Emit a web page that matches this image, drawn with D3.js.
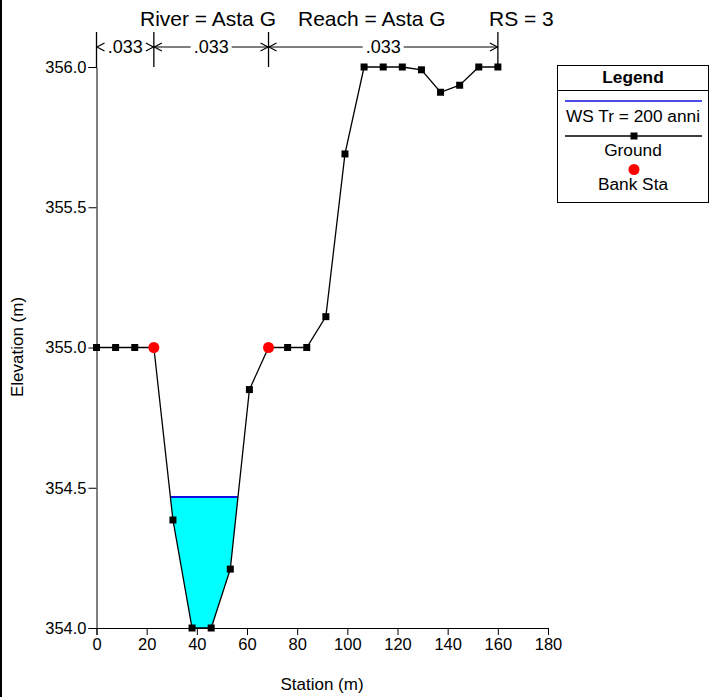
<!DOCTYPE html>
<html>
<head>
<meta charset="utf-8">
<script src="https://cdn.jsdelivr.net/npm/d3@7"></script>
<style>
  html, body { margin: 0; padding: 0; background: #fff; }
  svg { display: block; font-family: "Liberation Sans", Arial, sans-serif; }
</style>
</head>
<body>
<svg id="chart" width="712" height="697"></svg>
<script>
// ---- data ----
const stations = [0, 7.62, 15.24, 22.86, 30.48, 38.10, 45.72, 53.34, 60.96, 68.58, 76.20, 83.82,
                  91.44, 99.06, 106.68, 114.30, 121.92, 129.54, 137.16, 144.78, 152.40, 160.02];
const elevations = [355.0, 355.0, 355.0, 355.0, 354.385, 354.0, 354.0, 354.21, 354.85, 355.0, 355.0, 355.0,
                    355.11, 355.69, 356.0, 356.0, 356.0, 355.99, 355.91, 355.935, 356.0, 356.0];
const bankStations = [22.86, 68.58];
const bankElevations = [355.0, 355.0];
const wsElevation = 354.467;
const nStations = [0, 22.86, 68.58, 160.02];
const nValues = [".033", ".033", ".033"];
const xTicks = [0, 20, 40, 60, 80, 100, 120, 140, 160, 180];
const yTicks = [354.0, 354.5, 355.0, 355.5, 356.0];
const titleParts = ["River = Asta G", "Reach = Asta G", "RS = 3"];
const legendItems = ["WS Tr = 200 anni", "Ground", "Bank Sta"];

// ---- chart ----
const svg = d3.select("#chart");
const x = d3.scaleLinear().domain([0, 180]).range([96.5, 548]);
const y = d3.scaleLinear().domain([354, 356]).range([628, 67]);

// left border
svg.append("line").attr("x1", 1).attr("x2", 1).attr("y1", 0).attr("y2", 697)
  .attr("stroke", "#000").attr("stroke-width", 2);

// water polygon: find intersections with ground
const pts = stations.map((s, i) => [s, elevations[i]]);
let leftX = null, rightX = null, leftIdx = 0, rightIdx = 0;
let minI = d3.minIndex(elevations);
for (let i = minI; i > 0; i--) {
  if (elevations[i - 1] >= wsElevation && elevations[i] < wsElevation) {
    const t = (elevations[i - 1] - wsElevation) / (elevations[i - 1] - elevations[i]);
    leftX = stations[i - 1] + t * (stations[i] - stations[i - 1]); leftIdx = i; break;
  }
}
for (let i = minI; i < stations.length - 1; i++) {
  if (elevations[i + 1] >= wsElevation && elevations[i] < wsElevation) {
    const t = (wsElevation - elevations[i]) / (elevations[i + 1] - elevations[i]);
    rightX = stations[i] + t * (stations[i + 1] - stations[i]); rightIdx = i; break;
  }
}
const waterPts = [[leftX, wsElevation]];
for (let i = leftIdx; i <= rightIdx; i++) waterPts.push(pts[i]);
waterPts.push([rightX, wsElevation]);
svg.append("path")
  .attr("d", d3.line().x(d => x(d[0])).y(d => y(d[1]))(waterPts) + "Z")
  .attr("fill", "#00ffff").attr("stroke", "none");
svg.append("line")
  .attr("x1", x(leftX)).attr("x2", x(rightX)).attr("y1", y(wsElevation)).attr("y2", y(wsElevation))
  .attr("stroke", "#1010e0").attr("stroke-width", 2);

// axes
const fs = 16.5;
const gx = svg.append("g").attr("transform", `translate(0,${y(354)})`);
gx.call(d3.axisBottom(x).tickValues(d3.range(0, 181, 10)).tickSize(4).tickFormat(""));
gx.call(d3.axisBottom(x).tickValues(xTicks).tickSize(7).tickPadding(3).tickFormat(d3.format("d")));
gx.selectAll("text").attr("font-size", fs).attr("font-family", "Liberation Sans, Arial, sans-serif").attr("fill", "#000");
gx.selectAll("path.domain").attr("stroke", "#000");
gx.selectAll("line").attr("stroke", "#000");

const gy = svg.append("g").attr("transform", `translate(${x(0)},0)`);
gy.call(d3.axisLeft(y).tickValues(d3.range(0, 21).map(i => 354 + i * 0.1)).tickSize(5).tickFormat(""));
gy.call(d3.axisLeft(y).tickValues(yTicks).tickSize(8).tickPadding(2).tickFormat(d3.format(".1f")));
gy.selectAll("text").attr("font-size", fs).attr("font-family", "Liberation Sans, Arial, sans-serif").attr("fill", "#000");
gy.selectAll("path.domain").attr("stroke", "#000");
gy.selectAll("line").attr("stroke", "#000");

// axis titles
svg.append("text").attr("x", 322).attr("y", 690).attr("text-anchor", "middle")
  .attr("font-size", 17).text("Station (m)");
svg.append("text").attr("transform", `translate(23,347) rotate(-90)`).attr("text-anchor", "middle")
  .attr("font-size", 17).text("Elevation (m)");

// ground line
svg.append("path")
  .attr("d", d3.line().x(d => x(d[0])).y(d => y(d[1]))(pts))
  .attr("fill", "none").attr("stroke", "#000").attr("stroke-width", 1.3);
svg.append("g").selectAll("rect").data(pts).join("rect")
  .attr("x", d => x(d[0]) - 3.5).attr("y", d => y(d[1]) - 3.5)
  .attr("width", 7).attr("height", 7).attr("fill", "#000");

// bank stations
svg.append("g").selectAll("circle").data(bankStations).join("circle")
  .attr("cx", d => x(d)).attr("cy", (d, i) => y(bankElevations[i])).attr("r", 5.5).attr("fill", "#ff0000");

// n-values
const nTop = 32, nArrowY = 47;
const ng = svg.append("g").attr("stroke", "#000").attr("fill", "none");
nStations.forEach(s => {
  ng.append("line").attr("x1", x(s)).attr("x2", x(s)).attr("y1", nTop).attr("y2", y(356)).attr("stroke-width", 1.3);
});
function arrowHead(xTip, dir) {
  ng.append("path").attr("d", `M${xTip + dir * 8},${nArrowY - 4}L${xTip + 0.5 * dir},${nArrowY}L${xTip + dir * 8},${nArrowY + 4}`)
    .attr("stroke-width", 1.2);
}
nValues.forEach((v, i) => {
  const x0 = x(nStations[i]), x1 = x(nStations[i + 1]);
  const mid = (x0 + x1) / 2;
  const t = svg.append("text").attr("x", mid).attr("y", nArrowY + 6).attr("text-anchor", "middle")
    .attr("font-size", 18).text(v);
  const w = t.node().getComputedTextLength();
  const lx = mid - w / 2 - 3, rx = mid + w / 2 + 3;
  if (lx - x0 > 10) ng.append("line").attr("x1", x0).attr("x2", lx).attr("y1", nArrowY).attr("y2", nArrowY);
  if (x1 - rx > 10) ng.append("line").attr("x1", rx).attr("x2", x1).attr("y1", nArrowY).attr("y2", nArrowY);
  arrowHead(x0, 1);
  arrowHead(x1, -1);
});

// title
const titleX = [140, 298, 489];
titleParts.forEach((p, i) => {
  svg.append("text").attr("x", titleX[i]).attr("y", 26).attr("font-size", 21).text(p);
});

// legend
const lg = svg.append("g");
const lfs = 17.3;
lg.append("rect").attr("x", 557.5).attr("y", 65.5).attr("width", 151).attr("height", 137)
  .attr("fill", "#fff").attr("stroke", "#000");
lg.append("line").attr("x1", 557.5).attr("x2", 708.5).attr("y1", 90.5).attr("y2", 90.5).attr("stroke", "#000");
lg.append("text").attr("x", 633).attr("y", 83).attr("text-anchor", "middle")
  .attr("font-size", lfs).attr("font-weight", "bold").text("Legend");
lg.append("line").attr("x1", 565).attr("x2", 702).attr("y1", 101).attr("y2", 101)
  .attr("stroke", "#1010e0").attr("stroke-width", 1.5);
lg.append("text").attr("x", 633).attr("y", 122).attr("text-anchor", "middle").attr("font-size", lfs).text(legendItems[0]);
lg.append("line").attr("x1", 565).attr("x2", 702).attr("y1", 136).attr("y2", 136)
  .attr("stroke", "#000").attr("stroke-width", 1.3);
lg.append("rect").attr("x", 630.5).attr("y", 132.5).attr("width", 7).attr("height", 7).attr("fill", "#000");
lg.append("text").attr("x", 633).attr("y", 156).attr("text-anchor", "middle").attr("font-size", lfs).text(legendItems[1]);
lg.append("circle").attr("cx", 634).attr("cy", 169.5).attr("r", 5.5).attr("fill", "#ff0000");
lg.append("text").attr("x", 633).attr("y", 190).attr("text-anchor", "middle").attr("font-size", lfs).text(legendItems[2]);
</script>
</body>
</html>
